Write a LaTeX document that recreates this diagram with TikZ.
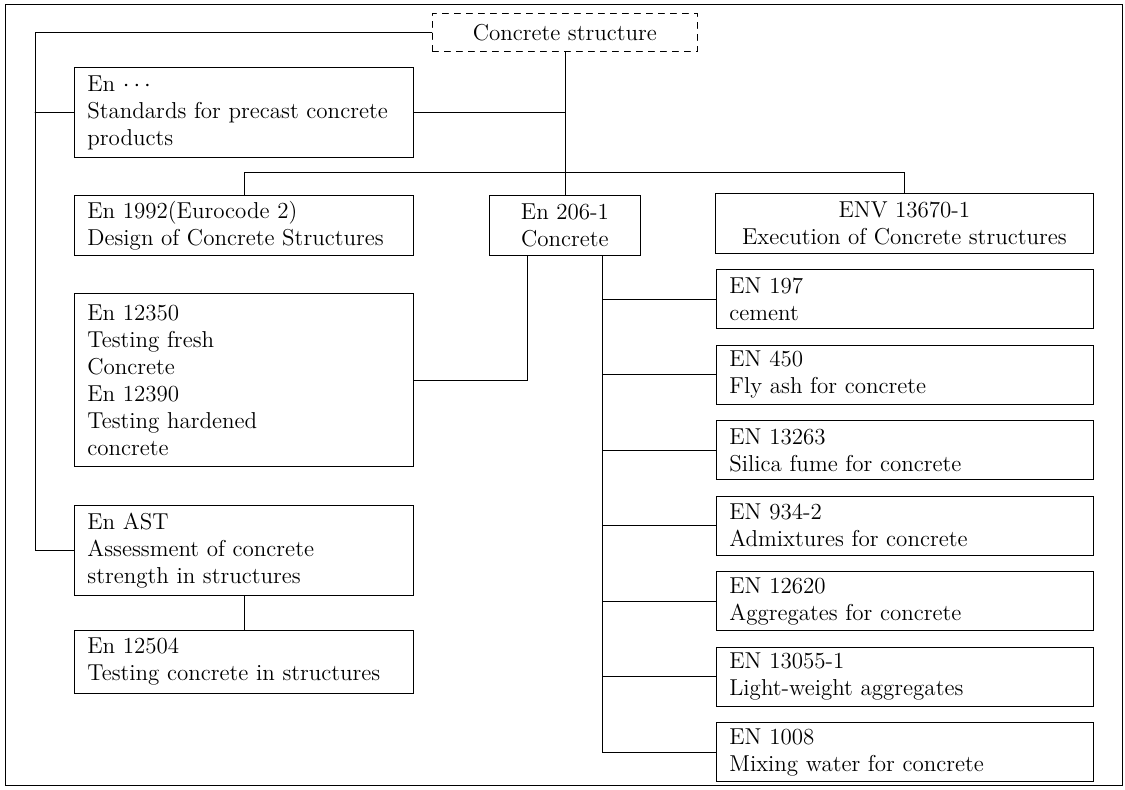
\documentclass[tikz,border=0pt]{standalone}
\usetikzlibrary{calc}
\begin{document}
\begin{tikzpicture}[x=0.5pt, y=-0.5pt, line cap=round]
  \tikzset{box0/.style={draw, anchor=north west, inner xsep=6.5pt, inner ysep=0pt, align=left, font=\fontsize{11.5}{13.5}\selectfont},
    boxL/.style={box0, text width=156.5pt}, boxR/.style={box0, anchor=west, text width=175.5pt, minimum height=29.5pt},
    boxC/.style={box0, align=center}}
  \useasboundingbox (0,0) rectangle (1125,789);
  % rahmen
  \draw (5,4) rectangle (1122,785);
  % wurzel
  \node[boxC, dashed, minimum width=132.5pt, minimum height=19pt] (root) at (432,13) {Concrete structure};
  % linke spalte
  \node[boxL, minimum height=45pt] (pre) at (74,67) {En $\cdots$\\Standards for precast concrete\\products};
  \node[boxL, minimum height=30pt] (ec2) at (74,195) {En 1992(Eurocode 2)\\Design of Concrete Structures};
  \node[boxL, minimum height=86.5pt] (test) at (74,293) {En 12350\\Testing fresh\\Concrete\\En 12390\\Testing hardened\\concrete};
  \node[boxL, minimum height=45pt] (ast) at (74,505) {En AST\\Assessment of concrete\\strength in structures};
  \node[boxL, minimum height=31.5pt] (insitu) at (74,630) {En 12504\\Testing concrete in structures};
  % mitte
  \node[boxC, minimum width=75.5pt, minimum height=30pt] (c206) at (489,195) {En 206-1\\Concrete};
  \node[boxC, minimum width=189pt, minimum height=30pt] (env) at (715,193) {ENV 13670-1\\Execution of Concrete structures};
  % bestandteile
  \foreach \i/\y/\txt in {1/299/{EN 197\\cement}, 2/374.5/{EN 450\\Fly ash for concrete},
      3/450/{EN 13263\\Silica fume for concrete}, 4/525.5/{EN 934-2\\Admixtures for concrete},
      5/601/{EN 12620\\Aggregates for concrete}, 6/676.5/{EN 13055-1\\Light-weight aggregates},
      7/752/{EN 1008\\Mixing water for concrete}}
    \node[boxR] (r\i) at (716,\y) {\txt};
  % verbindungen
  \draw (ast.west) -- ++(-39,0) |- (root.west);
  \draw (pre.west) -- ++(-39,0);
  \draw (root.south) -- (c206.north);
  \draw (pre.east) -- (pre.east -| root.south);
  \draw (ec2.north) -- ++(0,-23) -| (env.north);
  \draw ($(c206.south west)!.25!(c206.south east)$) |- (test.east);
  \foreach \i in {1,...,7}
    \draw ($(c206.south west)!.75!(c206.south east)$) |- (r\i.west);
  \draw (ast.south) -- (insitu.north);
\end{tikzpicture}
\end{document}
